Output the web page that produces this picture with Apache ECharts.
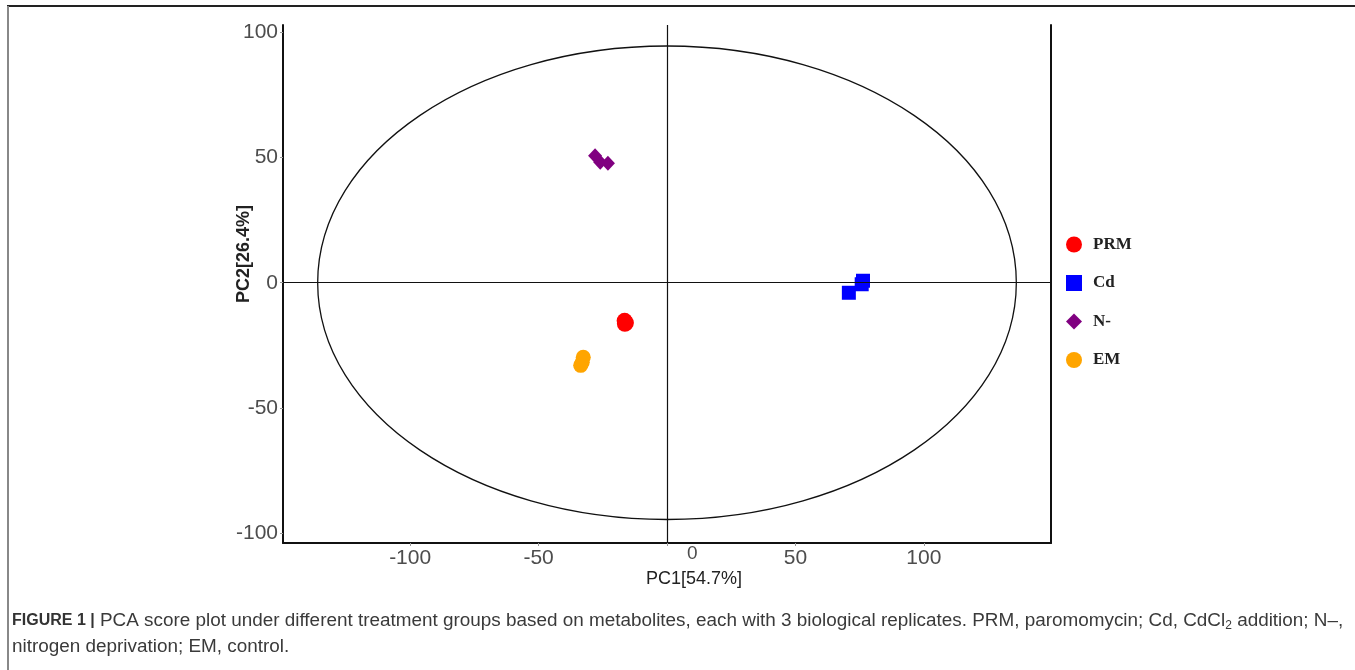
<!DOCTYPE html>
<html>
<head>
<meta charset="utf-8">
<script src="https://cdn.jsdelivr.net/npm/echarts@6/dist/echarts.min.js"></script>
<style>
html,body{margin:0;padding:0;background:#fff;}
#chart{width:1355px;height:670px;}
</style>
</head>
<body>
<div id="chart"></div>
<script>
// ---- data ----
const groups = ['PRM', 'Cd', 'N-', 'EM'];
const prm = [[-16.5, -15.2], [-16.0, -16.0], [-16.4, -16.4]];
const cd = [[76.3, 0.8], [75.8, -0.6], [70.8, -4.0]];
const nMinus = [[-28.0, 50.8], [-26.0, 48.2], [-23.0, 47.8]];
const em = [[-32.6, -29.8], [-33.0, -31.8], [-33.6, -33.0]];
const ellipse = [[0, 0, 136, 94.6]]; // centre x, centre y, semi-axis x, semi-axis y
const tickValues = [-100, -50, 0, 50, 100];
const xRange = [-149.5, 149.5];
const yRange = [-104, 103];

const chart = echarts.init(document.getElementById('chart'));
const labelFont = 'Liberation Sans, Arial, sans-serif';

const option = {
  animation: false,
  backgroundColor: '#fff',
  grid: { left: 283, right: 304, top: 25, bottom: 127, containLabel: false },
  xAxis: {
    type: 'value', min: xRange[0], max: xRange[1],
    splitLine: { show: false },
    axisLine: { show: true, onZero: false, lineStyle: { color: '#111', width: 2 } },
    axisTick: { show: true, length: 3, customValues: tickValues, lineStyle: { color: '#999' } },
    axisLabel: {
      customValues: tickValues, margin: 5, color: '#4d4d4d', fontSize: 21, fontFamily: labelFont,
      formatter: v => (v === 0 ? '' : String(v))
    },
    name: 'PC1[54.7%]', nameLocation: 'middle', nameGap: 27, nameMoveOverlap: false,
    nameTextStyle: { color: '#222', fontSize: 18, fontFamily: labelFont, padding: [0, 0, 0, 54] }
  },
  yAxis: [{
    type: 'value', min: yRange[0], max: yRange[1],
    splitLine: { show: false },
    axisLine: { show: true, onZero: false, lineStyle: { color: '#111', width: 2 } },
    axisTick: { show: true, length: 3, customValues: tickValues, lineStyle: { color: '#999' } },
    axisLabel: { customValues: tickValues, margin: 5, color: '#4d4d4d', fontSize: 21, fontFamily: labelFont },
    name: 'PC2[26.4%]', nameLocation: 'middle', nameGap: 30, nameMoveOverlap: false,
    nameTextStyle: { color: '#222', fontSize: 18, fontWeight: 'bold', fontFamily: labelFont, padding: [0, 0, 0, 60] }
  }, {
    type: 'value', position: 'right', min: yRange[0], max: yRange[1],
    splitLine: { show: false },
    axisLine: { show: true, onZero: false, lineStyle: { color: '#111', width: 2 } },
    axisTick: { show: false }, axisLabel: { show: false }
  }],
  legend: {
    orient: 'vertical', left: 1061, top: 231, itemGap: 21.5,
    itemWidth: 16, itemHeight: 16,
    data: groups,
    textStyle: { fontFamily: 'Liberation Serif, Times New Roman, serif', fontWeight: 'bold', fontSize: 17, color: '#222', padding: [0, 0, 0, 6] }
  },
  series: [
    {
      type: 'custom', name: 'ellipse', silent: true, z: 1,
      data: ellipse,
      renderItem: function (params, api) {
        const c = api.coord([api.value(0), api.value(1)]);
        const r = api.coord([api.value(0) + api.value(2), api.value(1)]);
        const t = api.coord([api.value(0), api.value(1) + api.value(3)]);
        return {
          type: 'ellipse',
          shape: { cx: c[0], cy: c[1], rx: r[0] - c[0], ry: c[1] - t[1] },
          style: { fill: 'none', stroke: '#111', lineWidth: 1.3 }
        };
      },
      markLine: {
        silent: true, symbol: 'none', label: { show: false },
        lineStyle: { color: '#111', width: 1.2, type: 'solid' },
        data: [{ xAxis: 0 }, { yAxis: 0 }]
      }
    },
    { name: 'PRM', type: 'scatter', data: prm, symbol: 'circle', symbolSize: 16, itemStyle: { color: '#ff0000', opacity: 1 }, z: 3 },
    { name: 'Cd', type: 'scatter', data: cd, symbol: 'rect', symbolSize: 14, itemStyle: { color: '#0000ff', opacity: 1 }, z: 3 },
    { name: 'N-', type: 'scatter', data: nMinus, symbol: 'diamond', symbolSize: [14, 15], itemStyle: { color: '#800080', opacity: 1 }, z: 3 },
    { name: 'EM', type: 'scatter', data: em, symbol: 'circle', symbolSize: 15, itemStyle: { color: '#ffa500', opacity: 1 }, z: 3 }
  ]
};
chart.setOption(option);

// zero tick label (drawn offset as in the original) + frame + caption
const zeroPos = chart.convertToPixel({ xAxisIndex: 0, yAxisIndex: 0 }, [0, yRange[0]]);
chart.setOption({
  graphic: [
    { type: 'text', left: zeroPos[0] + 20, top: zeroPos[1] + 1,
      style: { text: '0', fill: '#4d4d4d', font: '19px ' + labelFont } },
    { type: 'line', shape: { x1: 7, y1: 6, x2: 1355, y2: 6 }, style: { stroke: '#222', lineWidth: 2 } },
    { type: 'line', shape: { x1: 8, y1: 6, x2: 8, y2: 670 }, style: { stroke: '#888', lineWidth: 2 } },
    { type: 'text', left: 12, top: 608,
      style: {
        text: '{b|FIGURE 1 |} PCA score plot under different treatment groups based on metabolites, each with 3 biological replicates. PRM, paromomycin; Cd, CdCl{s|2} addition; N–,\nnitrogen deprivation; EM, control.',
        font: '18.9px ' + labelFont, fill: '#3a3a3a', lineHeight: 26,
        rich: {
          b: { fontWeight: 'bold', fontSize: 16, fontFamily: labelFont, fill: '#333', lineHeight: 26 },
          s: { fontSize: 12, fontFamily: labelFont, fill: '#3a3a3a', lineHeight: 26, padding: [9, 0, 0, 0] }
        }
      } }
  ]
});
</script>
</body>
</html>
